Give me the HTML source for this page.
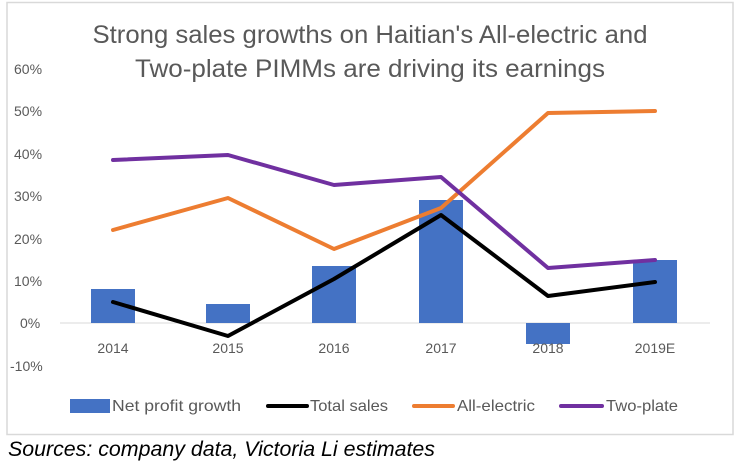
<!DOCTYPE html>
<html><head><meta charset="utf-8"><style>
body{margin:0;background:#fff;}
svg{display:block;font-family:"Liberation Sans",sans-serif;}
</style></head><body>
<svg width="735" height="465" viewBox="0 0 735 465" xmlns="http://www.w3.org/2000/svg">
<rect x="7" y="2.5" width="726" height="432" fill="#fff" stroke="#d9d9d9" stroke-width="1.5"/>
<g fill="#595959" font-size="25" text-anchor="middle">
<text x="370" y="43" textLength="555" lengthAdjust="spacingAndGlyphs">Strong sales growths on Haitian's All-electric and</text>
<text x="370" y="77" textLength="470" lengthAdjust="spacingAndGlyphs">Two-plate PIMMs are driving its earnings</text>
</g>
<g fill="#595959" font-size="14" text-anchor="start">
<text x="14" y="74">60%</text>
<text x="14" y="116">50%</text>
<text x="14" y="159">40%</text>
<text x="14" y="201">30%</text>
<text x="14" y="244">20%</text>
<text x="14" y="286">10%</text>
<text x="20" y="328">0%</text>
<text x="10" y="371">-10%</text>
</g>
<line x1="60" y1="323" x2="710" y2="323" stroke="#d9d9d9" stroke-width="1"/>
<g fill="#4472c4">
<rect x="91" y="289" width="44" height="34"/>
<rect x="206" y="304" width="44" height="19"/>
<rect x="312" y="266" width="44" height="57"/>
<rect x="419" y="200" width="44" height="123"/>
<rect x="526" y="323" width="44" height="21"/>
<rect x="633" y="260" width="44" height="63"/>
</g>
<g fill="#595959" font-size="14" text-anchor="middle">
<text x="113" y="353">2014</text>
<text x="228" y="353">2015</text>
<text x="334" y="353">2016</text>
<text x="441" y="353">2017</text>
<text x="548" y="353">2018</text>
<text x="655" y="353">2019E</text>
</g>
<g fill="none" stroke-width="4" stroke-linejoin="round" stroke-linecap="round">
<polyline stroke="#ed7d31" points="113,230 228,198 334,249 441,208 548,113 655,111"/>
<polyline stroke="#7030a0" points="113,160 228,155 334,185 441,177 548,268 655,260"/>
<polyline stroke="#000" points="113,302 228,336 334,279 441,215 548,296 655,282"/>
</g>
<g font-size="16" fill="#595959">
<rect x="70" y="399" width="40" height="14" fill="#4472c4"/>
<text x="112" y="411" textLength="129" lengthAdjust="spacingAndGlyphs">Net profit growth</text>
<line x1="268" y1="406" x2="307" y2="406" stroke="#000" stroke-width="4" stroke-linecap="round"/>
<text x="310" y="411" textLength="78" lengthAdjust="spacingAndGlyphs">Total sales</text>
<line x1="414" y1="406" x2="453" y2="406" stroke="#ed7d31" stroke-width="4" stroke-linecap="round"/>
<text x="457" y="411" textLength="78" lengthAdjust="spacingAndGlyphs">All-electric</text>
<line x1="561" y1="406" x2="602" y2="406" stroke="#7030a0" stroke-width="4" stroke-linecap="round"/>
<text x="606" y="411" textLength="72" lengthAdjust="spacingAndGlyphs">Two-plate</text>
</g>
<text x="8" y="456" font-size="21" font-style="italic" fill="#000" textLength="427" lengthAdjust="spacingAndGlyphs">Sources: company data, Victoria Li estimates</text>
</svg>
</body></html>
